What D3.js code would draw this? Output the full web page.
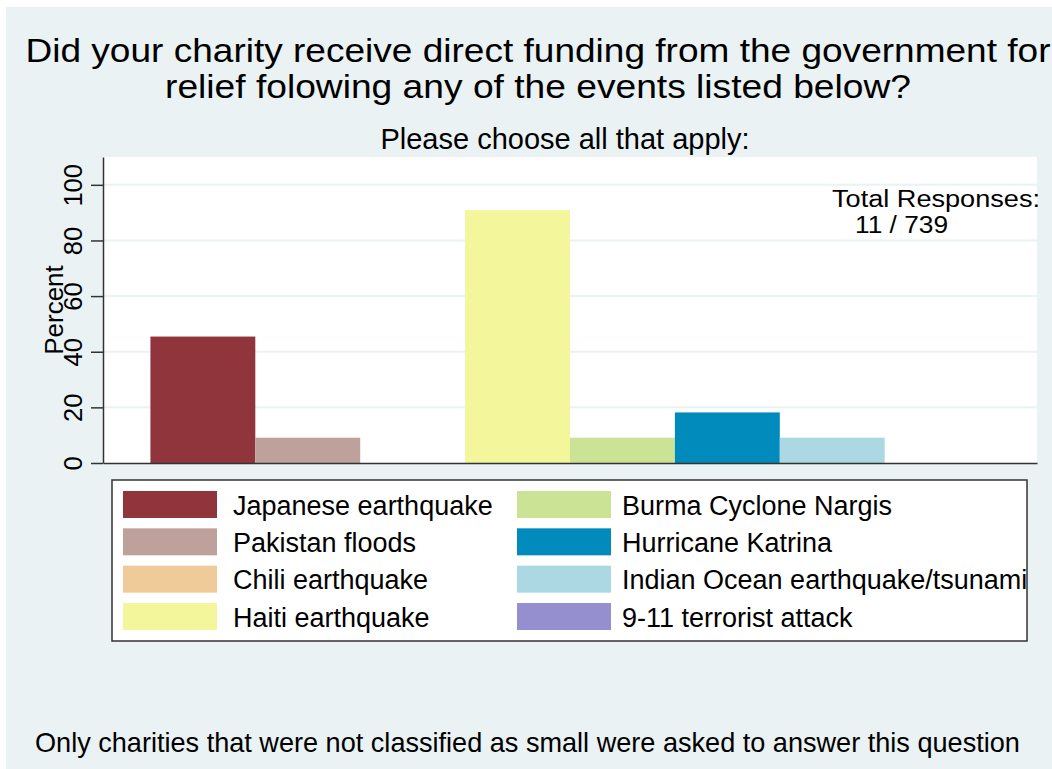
<!DOCTYPE html>
<html>
<head>
<meta charset="utf-8">
<script src="https://cdn.jsdelivr.net/npm/d3@7"></script>
<style>
  html, body { margin: 0; padding: 0; background: #ffffff; }
  svg { display: block; font-family: "Liberation Sans", Arial, Helvetica, sans-serif; }
</style>
</head>
<body>
<svg id="chart" width="1052" height="769"></svg>
<script>
// ---- data ----
const categories = [
  "Japanese earthquake", "Pakistan floods", "Chili earthquake", "Haiti earthquake",
  "Burma Cyclone Nargis", "Hurricane Katrina", "Indian Ocean earthquake/tsunami", "9-11 terrorist attack"
];
const percents = [45.45, 9.09, 0, 90.91, 9.09, 18.18, 9.09, 0];
const colors = ["#90353b", "#bfa19b", "#eecb98", "#f3f69a", "#cbe395", "#018abc", "#acd8e4", "#958fcf"];
const yTicks = [0, 20, 40, 60, 80, 100];
const titleLines = [
  "Did your charity receive direct funding from the government for",
  "relief folowing any of the events listed below?"
];
const subtitle = "Please choose all that apply:";
const yLabel = "Percent";
const noteLines = ["Total Responses:", "11 / 739"];
const footnote = "Only charities that were not classified as small were asked to answer this question";

// ---- layout ----
const svg = d3.select("#chart");
const W = 1052, H = 769;
const plot = { left: 103, right: 1037, top: 157, bottom: 463 };
const bg = "#eaf2f3";

svg.append("rect").attr("x", 6).attr("y", 7).attr("width", W - 6).attr("height", H - 7).attr("fill", bg);

const y = d3.scaleLinear().domain([0, 110]).range([plot.bottom, plot.top]);
const x = d3.scaleBand().domain(categories).range([plot.left, plot.right])
  .paddingInner(0).paddingOuter(0.452);

// plot region
svg.append("rect").attr("x", plot.left).attr("y", plot.top)
  .attr("width", plot.right - plot.left).attr("height", plot.bottom - plot.top)
  .attr("fill", "#ffffff");

// gridlines
svg.append("g").selectAll("line").data(yTicks.filter(d => d > 0)).join("line")
  .attr("x1", plot.left).attr("x2", plot.right)
  .attr("y1", d => y(d)).attr("y2", d => y(d))
  .attr("stroke", bg).attr("stroke-width", 2);

// bars
svg.append("g").selectAll("rect").data(categories).join("rect")
  .attr("x", d => x(d))
  .attr("width", x.bandwidth())
  .attr("y", (d, i) => y(percents[i]))
  .attr("height", (d, i) => y(0) - y(percents[i]))
  .attr("fill", (d, i) => colors[i]);

// y axis
const yAxis = svg.append("g").attr("transform", `translate(${plot.left},0)`)
  .call(d3.axisLeft(y).tickValues(yTicks).tickSize(12).tickSizeOuter(0));
yAxis.select(".domain").attr("stroke", "#333").attr("stroke-width", 1.5);
yAxis.selectAll(".tick line").attr("stroke", "#333").attr("stroke-width", 1.5);
yAxis.selectAll(".tick text")
  .attr("transform", "rotate(-90)")
  .attr("x", 0).attr("y", -21).attr("dy", 0)
  .attr("text-anchor", "middle")
  .attr("font-size", 25.5).attr("fill", "#000")
  .attr("font-family", "Liberation Sans, Arial, sans-serif");

// x axis (line only)
const xAxis = svg.append("g").attr("transform", `translate(0,${plot.bottom})`)
  .call(d3.axisBottom(x).tickValues([]).tickSizeOuter(0));
xAxis.select(".domain").attr("stroke", "#333").attr("stroke-width", 1.5);

// y label
svg.append("text")
  .attr("transform", `translate(63,${y(55)}) rotate(-90)`)
  .attr("text-anchor", "middle").attr("font-size", 26).text(yLabel);

// title: two lines, slightly wide glyphs as in the reference
const titleWidths = [1025, 746];
svg.append("g").selectAll("text").data(titleLines).join("text")
  .attr("x", 538).attr("y", (d, i) => 62 + i * 36)
  .attr("text-anchor", "middle").attr("font-size", 33)
  .attr("textLength", (d, i) => titleWidths[i])
  .attr("lengthAdjust", "spacingAndGlyphs")
  .text(d => d);

svg.append("text").attr("x", 565).attr("y", 149)
  .attr("text-anchor", "middle").attr("font-size", 29).text(subtitle);

// note (Total responses)
const noteX = [832, 855], noteWidths = [208, 93];
svg.append("g").selectAll("text").data(noteLines).join("text")
  .attr("x", (d, i) => noteX[i])
  .attr("y", (d, i) => 206.5 + i * 26.5)
  .attr("font-size", 23)
  .attr("textLength", (d, i) => noteWidths[i])
  .attr("lengthAdjust", "spacingAndGlyphs")
  .text(d => d);

// legend
const leg = svg.append("g");
leg.append("rect").attr("x", 112).attr("y", 480).attr("width", 915).attr("height", 161)
  .attr("fill", "#fff").attr("stroke", "#333").attr("stroke-width", 1.5);
const colX = [123, 517], textX = [233, 622];
const rowY = d3.scaleLinear().domain([0, 3]).range([491, 603]);
const items = leg.selectAll("g.item").data(categories).join("g").attr("class", "item");
items.append("rect")
  .attr("x", (d, i) => colX[Math.floor(i / 4)])
  .attr("y", (d, i) => rowY(i % 4))
  .attr("width", 94).attr("height", 27)
  .attr("fill", (d, i) => colors[i]);
items.append("text")
  .attr("x", (d, i) => textX[Math.floor(i / 4)])
  .attr("y", (d, i) => rowY(i % 4) + 23.5)
  .attr("font-size", 27).text(d => d);

// footnote
svg.append("text").attr("x", 35).attr("y", 752).attr("font-size", 27.1).text(footnote);
</script>
</body>
</html>
